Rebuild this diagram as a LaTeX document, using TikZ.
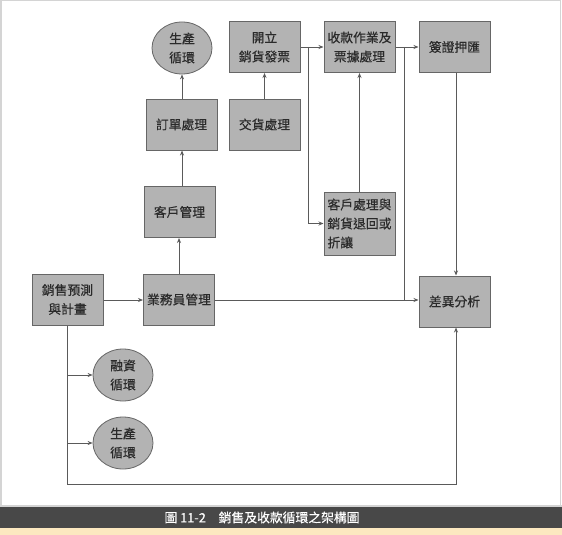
\documentclass[tikz,border=0pt]{standalone}
\usepackage{fontspec}
\setmainfont{Noto Sans CJK TC}[FakeBold=0.3]
\usetikzlibrary{arrows.meta,shapes.geometric}
\definecolor{boxfill}{HTML}{B3B3B3}
\definecolor{boxedge}{HTML}{666666}
\definecolor{lineclr}{HTML}{5A5A5A}
\definecolor{txt}{HTML}{2A2A2A}
\definecolor{barclr}{HTML}{484848}
\definecolor{beige}{HTML}{FCE8C0}
\definecolor{frameclr}{HTML}{D4D4D4}
\begin{document}
\begin{tikzpicture}[x=1pt,y=-1pt,
  every node/.style={font=\fontsize{12.8}{19}\selectfont, text=txt},
  pbox/.style={draw=boxedge, line width=1pt, fill=boxfill, minimum width=71pt, minimum height=51pt, inner sep=0pt, align=center},
  pell/.style={ellipse, draw=boxedge, line width=0.8pt, fill=boxfill, minimum width=60pt, minimum height=52pt, inner sep=0pt, align=center},
  conn/.style={draw=lineclr, line width=0.8pt},
  arr/.style={conn, -{Stealth[length=5pt,width=4pt]}}
]
\useasboundingbox (0,0) rectangle (562,535);
% frame and caption
\fill[white] (0,0) rectangle (562,507);
\draw[frameclr, line width=1.5pt] (0.75,535) -- (0.75,0.75) -- (560.5,0.75) -- (560.5,507);
\fill[frameclr] (0,504.5) rectangle (562,507);
\fill[barclr] (0,507) rectangle (562,528);
\fill[beige] (0,528) rectangle (562,535);
\node[text=white, font=\fontsize{12.8}{15}\selectfont] (cap) at (262,517.5) {圖 11-2　銷售及收款循環之架構圖};

% nodes
\node[pell] (prodA) at (182,48) {生產\\循環};
\node[pbox] (inv) at (264.5,47) {開立\\銷貨發票};
\node[pbox] (coll) at (359.5,47) {收款作業及\\票據處理};
\node[pbox] (sign) at (454.5,47) {簽證押匯};
\node[pbox] (order) at (181.5,124.5) {訂單處理};
\node[pbox] (deliv) at (264.5,124.5) {交貨處理};
\node[pbox] (cust) at (179.5,212) {客戶管理};
\node[pbox, minimum height=63pt, align=left] (ret) at (359.5,223.5) {客戶處理與\\銷貨退回或\\折讓};
\node[pbox] (fore) at (67.5,299.5) {銷售預測\\與計畫};
\node[pbox] (sales) at (179,299.5) {業務員管理};
\node[pbox] (var) at (454.5,301.5) {差異分析};
\node[pell] (fin) at (123,375) {融資\\循環};
\node[pell] (prodB) at (123,443) {生產\\循環};

% junction coordinates
\coordinate (j1) at (308,47);
\coordinate (j2) at (404,47);
\coordinate (row) at (0,300);
\coordinate (bl) at (67.5,484);
\coordinate (br) at (456,484);

% connectors
\draw[arr] (order.north -| prodA.south) -- (prodA.south);
\draw[arr] (cust.north -| order.south) ++(0.5,0) -- ([xshift=0.5pt]order.south);
\draw[arr] (sales.north) -- (cust.south -| sales.north);
\draw[arr] (deliv.north) -- (inv.south);
\draw[arr] (inv.east) -- (coll.west);
\draw[arr] (coll.east) -- (sign.west);
\draw[arr] (j1) -- (j1 |- ret.west) -- (ret.west);
\draw[arr] (ret.north) -- (coll.south);
\draw[conn] (j2) -- (j2 |- row);
\draw[arr] (sign.south) ++(1.5,0) -- ([xshift=1.5pt]var.north);
\draw[arr] (fore.east |- row) -- (sales.west |- row);
\draw[arr] (sales.east |- row) -- (var.west |- row);
\draw[arr] (fore.south) -- (bl) -- (br) -- (br |- var.south);
\draw[arr] (fore.south |- fin.west) -- (fin.west);
\draw[arr] (fore.south |- prodB.west) -- (prodB.west);
\end{tikzpicture}
\end{document}
